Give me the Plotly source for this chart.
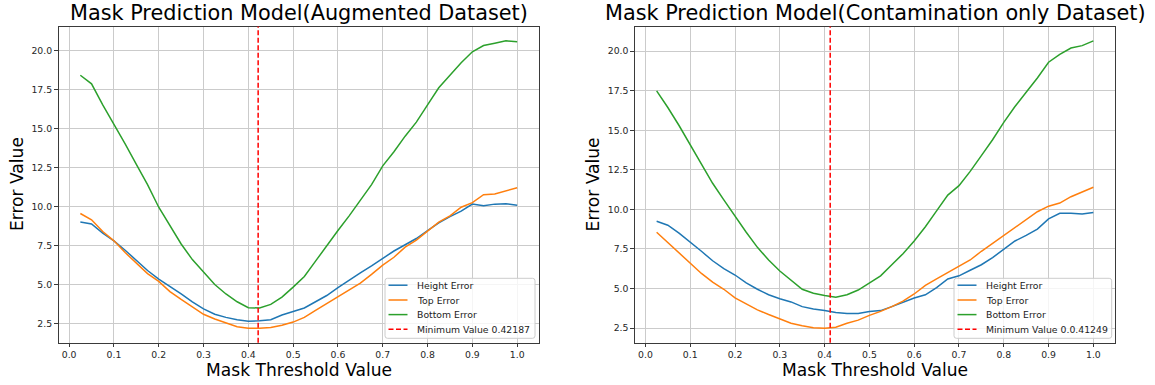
import plotly.graph_objects as go

thresholds = [0.025, 0.05, 0.075, 0.1, 0.125, 0.15, 0.175, 0.2, 0.225, 0.25,
              0.275, 0.3, 0.325, 0.35, 0.375, 0.4, 0.425, 0.45, 0.475, 0.5,
              0.525, 0.55, 0.575, 0.6, 0.625, 0.65, 0.675, 0.7, 0.725, 0.75,
              0.775, 0.8, 0.825, 0.85, 0.875, 0.9, 0.925, 0.95, 0.975, 1.0]

# Left panel: Augmented dataset
aug_height = [9.0, 8.88, 8.3, 7.8, 7.2, 6.55, 5.9, 5.35, 4.9, 4.4,
              3.9, 3.45, 3.1, 2.9, 2.75, 2.65, 2.68, 2.75, 3.05, 3.3,
              3.5, 3.9, 4.3, 4.8, 5.3, 5.75, 6.2, 6.7, 7.15, 7.55,
              7.95, 8.45, 8.95, 9.35, 9.7, 10.15, 10.05, 10.15, 10.18, 10.08]
aug_top = [9.55, 9.15, 8.4, 7.8, 7.05, 6.35, 5.7, 5.2, 4.55, 4.05,
           3.55, 3.1, 2.8, 2.55, 2.3, 2.2, 2.2, 2.25, 2.4, 2.6,
           2.9, 3.35, 3.8, 4.2, 4.65, 5.1, 5.65, 6.25, 6.75, 7.4,
           7.85, 8.4, 9.0, 9.4, 9.95, 10.25, 10.75, 10.8, 10.98, 11.2]
aug_bottom = [18.4, 17.85, 16.5, 15.27, 14.0, 12.7, 11.4, 9.95, 8.8, 7.6,
              6.6, 5.8, 5.0, 4.4, 3.9, 3.52, 3.5, 3.73, 4.2, 4.84,
              5.52, 6.5, 7.5, 8.46, 9.4, 10.4, 11.4, 12.6, 13.5, 14.5,
              15.4, 16.5, 17.6, 18.4, 19.2, 19.9, 20.3, 20.45, 20.6, 20.55]
aug_min = 0.42187

# Right panel: Contamination only dataset
con_height = [9.25, 9.0, 8.5, 7.95, 7.35, 6.75, 6.25, 5.85, 5.35, 4.95,
              4.6, 4.35, 4.15, 3.85, 3.7, 3.6, 3.48, 3.42, 3.42, 3.55,
              3.6, 3.85, 4.15, 4.4, 4.6, 5.05, 5.6, 5.8, 6.15, 6.5,
              6.95, 7.45, 8.0, 8.35, 8.75, 9.4, 9.75, 9.75, 9.7, 9.8]
con_top = [8.55, 7.9, 7.25, 6.6, 5.95, 5.4, 4.95, 4.4, 4.0, 3.65,
           3.35, 3.05, 2.8, 2.65, 2.52, 2.48, 2.55, 2.8, 3.0, 3.3,
           3.55, 3.85, 4.2, 4.65, 5.2, 5.6, 6.0, 6.35, 6.8, 7.35,
           7.85, 8.4, 8.85, 9.4, 9.85, 10.2, 10.4, 10.8, 11.1, 11.4]
con_bottom = [17.49, 16.44, 15.3, 14.1, 12.9, 11.65, 10.6, 9.55, 8.55, 7.6,
              6.8, 6.1, 5.5, 4.95, 4.7, 4.55, 4.45, 4.6, 4.9, 5.35,
              5.8, 6.5, 7.2, 8.0, 8.9, 9.9, 10.9, 11.5, 12.4, 13.4,
              14.4, 15.5, 16.5, 17.4, 18.3, 19.3, 19.8, 20.2, 20.35, 20.65]
con_min = 0.41249

titles = ["Mask Prediction Model(Augmented Dataset)",
          "Mask Prediction Model(Contamination only Dataset)"]
series_names = ["Height Error", "Top Error", "Bottom Error"]
min_labels = ["Minimum Value 0.42187", "Minimum Value 0.0.41249"]
x_ticks = [0.0, 0.1, 0.2, 0.3, 0.4, 0.5, 0.6, 0.7, 0.8, 0.9, 1.0]
y_ticks = [2.5, 5.0, 7.5, 10.0, 12.5, 15.0, 17.5, 20.0]

colors = ["#1f77b4", "#ff7f0e", "#2ca02c"]
DASH = "5px,2.5px"
FONT = "DejaVu Sans"
W, H = 1155, 385

panels = [
    dict(series=[aug_height, aug_top, aug_bottom], vmin=aug_min,
         px=(58.5, 539.0), leg=(385.0, 535.0)),
    dict(series=[con_height, con_top, con_bottom], vmin=con_min,
         px=(634.8, 1115.2), leg=(954.0, 1111.7)),
]
top_px, bot_px = 26.5, 342.7
leg_top, leg_bot = 278.3, 338.3
leg_rows = [285.2, 300.0, 314.6, 329.3]


def fx(px):
    return px / W


def fy(py):
    return 1 - py / H


def rounded_box(x0, y0, x1, y1, r=2.5):
    rx, ry = r / W, r / H
    X0, X1, Y0, Y1 = fx(x0), fx(x1), fy(y0), fy(y1)
    return (f"M {X0 + rx},{Y0} L {X1 - rx},{Y0} Q {X1},{Y0} {X1},{Y0 - ry} "
            f"L {X1},{Y1 + ry} Q {X1},{Y1} {X1 - rx},{Y1} L {X0 + rx},{Y1} "
            f"Q {X0},{Y1} {X0},{Y1 + ry} L {X0},{Y0 - ry} Q {X0},{Y0} {X0 + rx},{Y0} Z")


fig = go.Figure()
shapes, annotations = [], []
layout = dict(
    width=W, height=H, margin=dict(l=0, r=0, t=0, b=0),
    paper_bgcolor="white", plot_bgcolor="white",
    font=dict(family=FONT, color="#222"), showlegend=False,
)

for i, p in enumerate(panels):
    sfx = "" if i == 0 else str(i + 1)
    xa, ya = "x" + sfx, "y" + sfx
    for name, vals, c in zip(series_names, p["series"], colors):
        fig.add_trace(go.Scatter(x=thresholds, y=vals, mode="lines", name=name,
                                 line=dict(color=c, width=1.5),
                                 xaxis=xa, yaxis=ya))
    shapes.append(dict(type="line", xref=xa, yref=ya + " domain",
                       x0=p["vmin"], x1=p["vmin"], y0=0, y1=1,
                       line=dict(color="red", width=1.5, dash=DASH), layer="above"))
    allv = [v for s in p["series"] for v in s]
    lo, hi = min(allv), max(allv)
    pad = (hi - lo) * 0.05
    xpad = (max(thresholds) - min(thresholds)) * 0.05
    x0p, x1p = p["px"]
    axis_common = dict(showline=True, linecolor="#3a3a3a", linewidth=1, mirror=True,
                       ticks="outside", ticklen=3.5, tickwidth=1, tickcolor="#3a3a3a",
                       showgrid=True, gridcolor="#cbcbcb", gridwidth=1,
                       zeroline=False, tickfont=dict(family=FONT, size=9.3, color="#262626"),
                       tickformat=".1f")
    layout["xaxis" + sfx] = dict(axis_common, domain=[fx(x0p), fx(x1p)], anchor=ya,
                                  range=[min(thresholds) - xpad, max(thresholds) + xpad],
                                  tickmode="array", tickvals=x_ticks)
    layout["yaxis" + sfx] = dict(axis_common, domain=[fy(bot_px), fy(top_px)], anchor=xa,
                                  range=[lo - pad, hi + pad],
                                  tickmode="array", tickvals=y_ticks)
    cx = fx((x0p + x1p) / 2)
    annotations += [
        dict(text=titles[i], x=cx, y=fy(13.5), xref="paper", yref="paper",
             xanchor="center", yanchor="middle", showarrow=False,
             font=dict(family=FONT, size=20.8, color="black")),
        dict(text="Mask Threshold Value", x=cx, y=fy(369.5), xref="paper", yref="paper",
             xanchor="center", yanchor="middle", showarrow=False,
             font=dict(family=FONT, size=17.1, color="black")),
        dict(text="Error Value", x=fx(x0p - 42), y=fy((top_px + bot_px) / 2),
             xref="paper", yref="paper", xanchor="center", yanchor="middle",
             showarrow=False, textangle=-90,
             font=dict(family=FONT, size=17.1, color="black")),
    ]
    # legend box (drawn manually to match matplotlib's compact legend)
    lx0, lx1 = p["leg"]
    shapes.append(dict(type="path", xref="paper", yref="paper",
                       path=rounded_box(lx0, leg_top, lx1, leg_bot),
                       fillcolor="rgba(255,255,255,0.8)",
                       line=dict(color="#cccccc", width=1), layer="above"))
    entries = list(zip(series_names, colors, ["solid"] * 3)) + [(min_labels[i], "red", DASH)]
    for (label, c, dash), ry in zip(entries, leg_rows):
        shapes.append(dict(type="line", xref="paper", yref="paper",
                           x0=fx(lx0 + 3.5), x1=fx(lx0 + 22.5), y0=fy(ry), y1=fy(ry),
                           line=dict(color=c, width=1.5, dash=dash), layer="above"))
        annotations.append(dict(text=label, x=fx(lx0 + 30), y=fy(ry), xref="paper",
                                yref="paper", xanchor="left", yanchor="middle",
                                showarrow=False,
                                font=dict(family=FONT, size=9.3, color="#222")))

layout["shapes"] = shapes
layout["annotations"] = annotations
fig.update_layout(**layout)
fig.write_html("out.html")
